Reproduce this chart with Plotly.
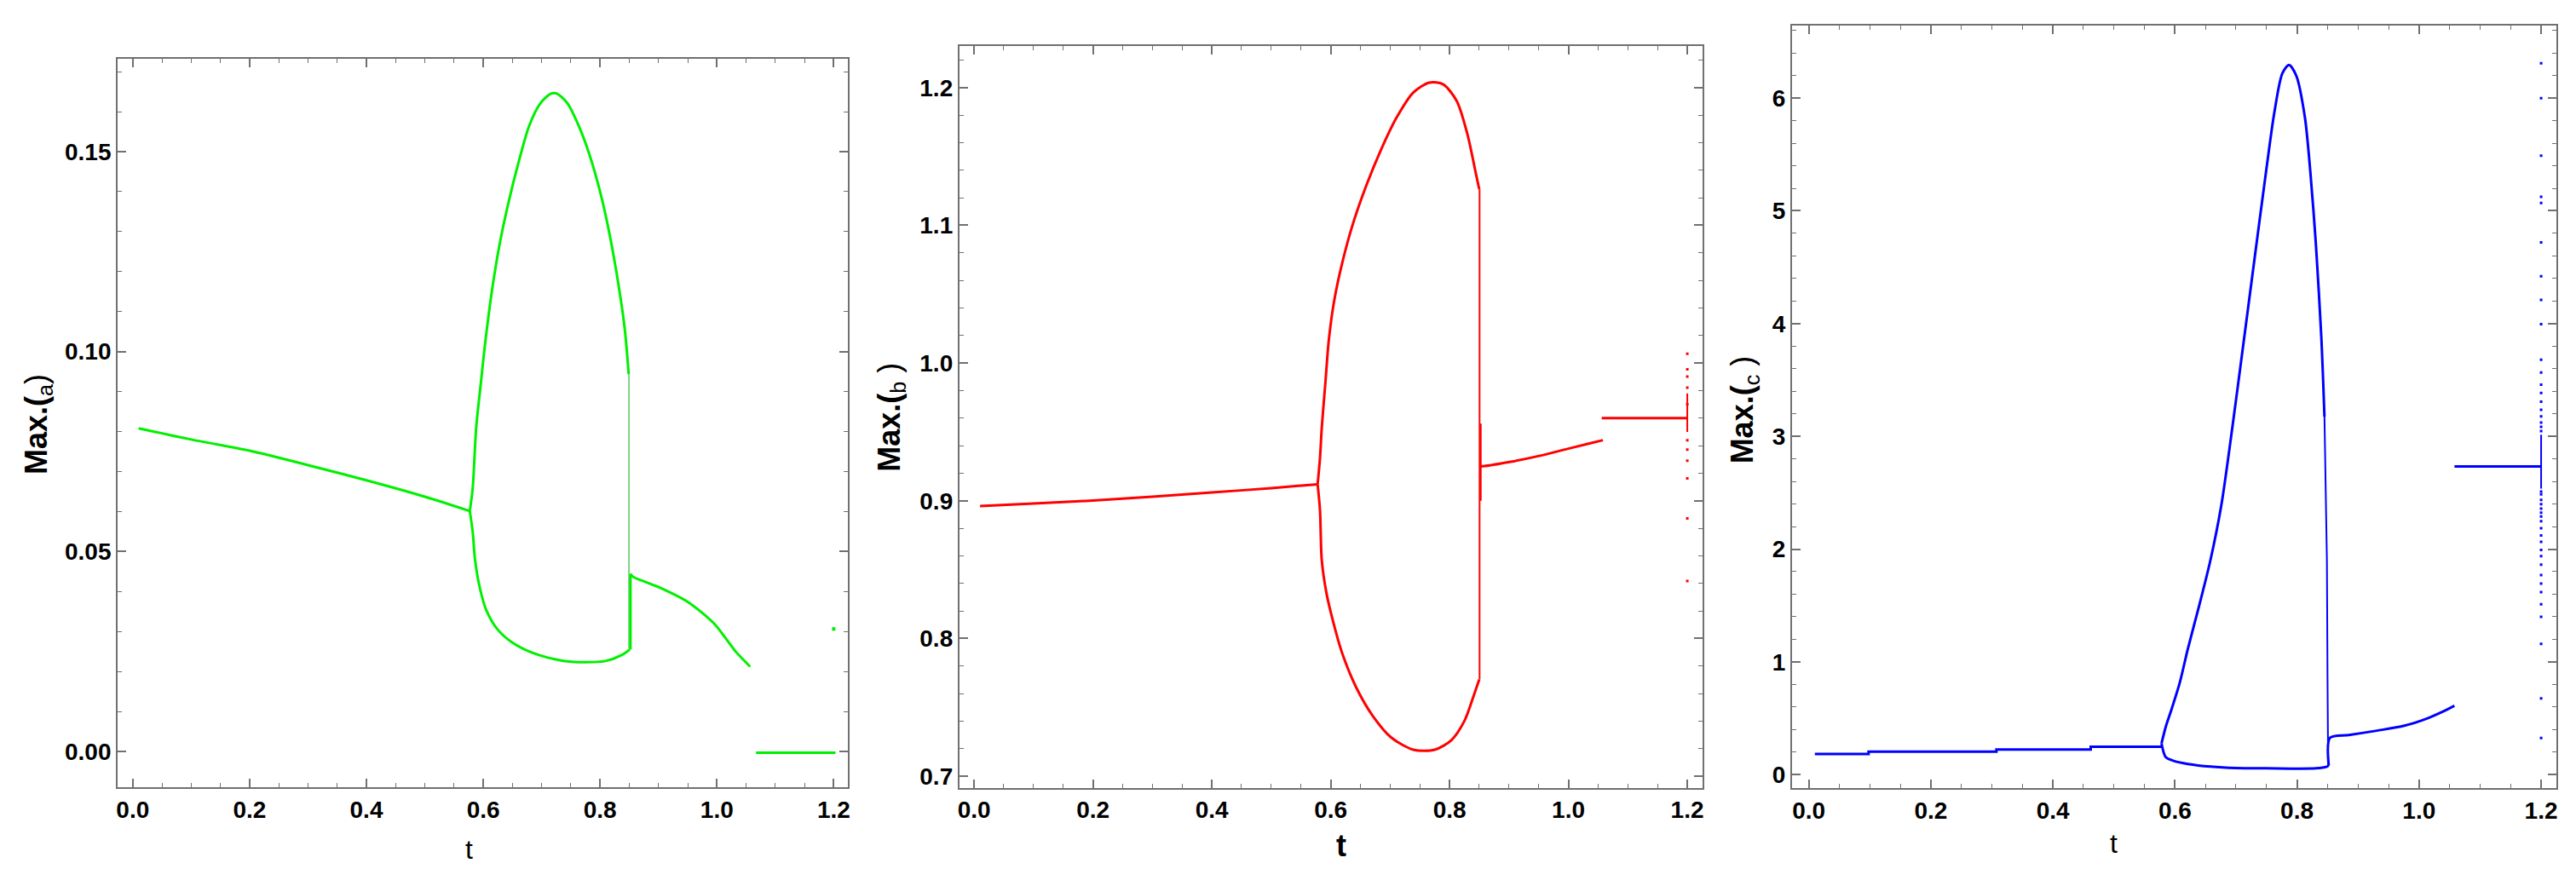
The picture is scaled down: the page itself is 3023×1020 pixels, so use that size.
import plotly.graph_objects as go

# ---------------- Panel (a) : green ----------------
a_left_t = [0.010, 0.100, 0.200, 0.300, 0.400, 0.500, 0.577]
a_left_v = [0.0808, 0.0780, 0.0752, 0.0716, 0.0678, 0.0637, 0.0601]

a_upper_t = [0.577, 0.582, 0.588, 0.596, 0.602, 0.614, 0.628, 0.642, 0.661, 0.679, 0.698,
             0.716, 0.726, 0.744, 0.763, 0.781, 0.800, 0.814, 0.828, 0.842, 0.849]
a_upper_v = [0.0601, 0.0659, 0.0811, 0.0922, 0.1005, 0.1143, 0.1268, 0.1365, 0.1476, 0.1566, 0.1621,
             0.1645, 0.1645, 0.1621, 0.1566, 0.1496, 0.1400, 0.1310, 0.1199, 0.1060, 0.0943]

a_drop_t = [0.8495, 0.8495]
a_drop_v = [0.0943, 0.0258]

a_lower_t = [0.577, 0.582, 0.586, 0.594, 0.605, 0.624, 0.651, 0.689, 0.735, 0.772, 0.809, 0.837, 0.851]
a_lower_v = [0.0601, 0.0548, 0.0479, 0.0410, 0.0354, 0.0306, 0.0271, 0.0244, 0.0227, 0.0223, 0.0226, 0.0241, 0.0255]

a_rise_t = [0.852, 0.852]
a_rise_v = [0.0255, 0.0444]

a_right_t = [0.852, 0.856, 0.902, 0.949, 0.995, 1.032, 1.057]
a_right_v = [0.0444, 0.0437, 0.0410, 0.0375, 0.0320, 0.0250, 0.0212]

a_zero_t = [1.067, 1.203]
a_zero_v = [-0.0003, -0.0003]

a_dots_t = [1.200]
a_dots_v = [0.0306]

# ---------------- Panel (b) : red ----------------
b_left_t = [0.010, 0.100, 0.200, 0.300, 0.400, 0.500, 0.578]
b_left_v = [0.8961, 0.8980, 0.9002, 0.9030, 0.9060, 0.9092, 0.9120]

b_upper_t = [0.578, 0.582, 0.585, 0.591, 0.597, 0.606, 0.620, 0.638, 0.661, 0.684, 0.711,
             0.739, 0.766, 0.789, 0.812, 0.830, 0.844, 0.850]
b_upper_v = [0.9120, 0.9311, 0.9532, 0.9854, 1.0175, 1.0456, 1.0738, 1.1019, 1.1301, 1.1542, 1.1783,
             1.1964, 1.2036, 1.2024, 1.1903, 1.1662, 1.1381, 1.1261]

b_drop_t = [0.8505, 0.8505]
b_drop_v = [1.1261, 0.7703]

b_lower_t = [0.578, 0.582, 0.585, 0.593, 0.604, 0.620, 0.643, 0.670, 0.702, 0.739, 0.775,
             0.803, 0.825, 0.842, 0.850]
b_lower_v = [0.9120, 0.8930, 0.8568, 0.8327, 0.8125, 0.7885, 0.7644, 0.7443, 0.7281, 0.7193, 0.7193,
             0.7262, 0.7402, 0.7603, 0.7703]

b_mid_t = [0.8525, 0.8525]
b_mid_v = [0.9560, 0.9000]

b_right_t = [0.853, 0.856, 0.903, 0.949, 0.994, 1.031, 1.058]
b_right_v = [0.9251, 0.9251, 0.9283, 0.9324, 0.9372, 0.9412, 0.9440]

b_plateau_t = [1.056, 1.200]
b_plateau_v = [0.9600, 0.9600]

b_dense_t = [1.2, 1.2]
b_dense_v = [0.9500, 0.9780]

b_dots_t = [1.2] * 11
b_dots_v = [1.0067, 0.9954, 0.9902, 0.9821, 0.9440, 0.9372, 0.9291, 0.9162, 0.8872, 0.8418, 0.9700]

# ---------------- Panel (c) : blue ----------------
c_left_t = [0.010, 0.098, 0.3075, 0.462, 0.578]
c_left_v = [0.183, 0.203, 0.223, 0.247, 0.247]

c_upper_t = [0.578, 0.585, 0.594, 0.608, 0.621, 0.640, 0.658, 0.676, 0.694, 0.712, 0.731,
             0.749, 0.763, 0.776, 0.787, 0.799, 0.813, 0.822, 0.831, 0.840, 0.845]
c_upper_v = [0.277, 0.425, 0.572, 0.817, 1.112, 1.505, 1.898, 2.389, 3.077, 3.814, 4.599,
             5.336, 5.876, 6.220, 6.294, 6.196, 5.827, 5.336, 4.698, 3.863, 3.175]

c_drop_t = [0.845, 0.849, 0.850, 0.851]
c_drop_v = [3.175, 1.898, 0.866, 0.081]

c_lower_t = [0.578, 0.585, 0.599, 0.621, 0.658, 0.700, 0.749, 0.831, 0.849, 0.852]
c_lower_v = [0.277, 0.154, 0.120, 0.095, 0.071, 0.058, 0.056, 0.056, 0.071, 0.080]

c_right_t = [0.852, 0.854, 0.885, 0.931, 0.976, 1.013, 1.040, 1.058]
c_right_v = [0.080, 0.326, 0.351, 0.390, 0.434, 0.498, 0.562, 0.611]

c_plateau_t = [1.058, 1.200]
c_plateau_v = [2.733, 2.733]

c_dense_t = [1.2, 1.2]
c_dense_v = [2.536, 3.014]

c_dots_v = [6.31, 6.00, 5.49, 5.125, 5.07, 4.72, 4.42, 4.21, 3.995, 3.680, 3.567, 3.459, 3.384,
            3.308, 3.235, 3.177, 3.122, 3.084, 3.047, 2.511, 2.486, 2.436, 2.398, 2.360, 2.323,
            2.290, 2.247, 2.185, 2.121, 2.064, 1.993, 1.938, 1.863, 1.770, 1.695, 1.619, 1.511,
            1.400, 1.159, 0.676, 0.324]
c_dots_t = [1.2] * len(c_dots_v)

GREEN = "#00F000"
RED = "#FF0000"
BLUE = "#0000FF"

fig = go.Figure()


def add_line(t, v, color, axis, width=3, shape="linear"):
    line = dict(color=color, width=width, shape=shape)
    if shape == "spline":
        line["smoothing"] = 0.8
    fig.add_trace(go.Scatter(x=t, y=v, mode="lines", line=line,
                             xaxis="x" + axis, yaxis="y" + axis, showlegend=False, hoverinfo="skip"))


def add_dots(t, v, color, axis, size=4):
    fig.add_trace(go.Scatter(x=t, y=v, mode="markers",
                             marker=dict(color=color, size=size, symbol="square", line=dict(width=0)),
                             xaxis="x" + axis, yaxis="y" + axis, showlegend=False, hoverinfo="skip"))


# panel a
add_line(a_left_t, a_left_v, GREEN, "", shape="spline")
add_line(a_upper_t, a_upper_v, GREEN, "", shape="spline")
add_line(a_drop_t, a_drop_v, "#7FD07F", "", width=2)
add_line(a_lower_t, a_lower_v, GREEN, "", shape="spline")
add_line(a_rise_t, a_rise_v, GREEN, "")
add_line(a_right_t, a_right_v, GREEN, "", shape="spline")
add_line(a_zero_t, a_zero_v, GREEN, "")
add_dots(a_dots_t, a_dots_v, GREEN, "")

# panel b
add_line(b_left_t, b_left_v, RED, "2", shape="spline")
add_line(b_upper_t, b_upper_v, RED, "2", shape="spline")
add_line(b_drop_t, b_drop_v, RED, "2", width=2)
add_line(b_lower_t, b_lower_v, RED, "2", shape="spline")
add_line(b_mid_t, b_mid_v, RED, "2", width=2)
add_line(b_right_t, b_right_v, RED, "2", shape="spline")
add_line(b_plateau_t, b_plateau_v, RED, "2")
add_line(b_dense_t, b_dense_v, RED, "2", width=2)
add_dots(b_dots_t, b_dots_v, RED, "2", size=3)

# panel c
add_line(c_left_t, c_left_v, BLUE, "3", shape="hv")
add_line(c_upper_t, c_upper_v, BLUE, "3", shape="spline")
add_line(c_drop_t, c_drop_v, BLUE, "3", width=2)
add_line(c_lower_t, c_lower_v, BLUE, "3", shape="spline")
add_line(c_right_t, c_right_v, BLUE, "3", shape="spline")
add_line(c_plateau_t, c_plateau_v, BLUE, "3")
add_line(c_dense_t, c_dense_v, BLUE, "3", width=2)
add_dots(c_dots_t, c_dots_v, BLUE, "3", size=3)

W, H = 3023, 1020
FRAME = "#707070"
FONT = "Liberation Sans, Arial, sans-serif"
tickfont = dict(family=FONT, size=28, color="black", weight="bold")


def axis(domain, rng, dtick, minor_dtick, fmt, tick0=0):
    return dict(domain=domain, range=rng, dtick=dtick, tick0=tick0, tickformat=fmt,
                ticks="inside", ticklen=10, tickwidth=1.5, tickcolor=FRAME,
                minor=dict(dtick=minor_dtick, tick0=tick0, ticks="inside", ticklen=5,
                           tickwidth=1.2, tickcolor=FRAME, showgrid=False),
                showline=True, linecolor=FRAME, linewidth=2, mirror="ticks",
                showgrid=False, zeroline=False, tickfont=tickfont, fixedrange=True)


def dx(a, b):
    return [a / W, b / W]


def dy(top, bottom):
    return [1 - bottom / H, 1 - top / H]


fig.update_layout(
    width=W, height=H,
    margin=dict(l=0, r=0, t=0, b=0),
    paper_bgcolor="white", plot_bgcolor="white",
    xaxis=dict(axis(dx(128.3, 986.7), [-0.0258, 1.2248], 0.2, 0.05, ".1f"), anchor="y"),
    yaxis=dict(axis(dy(60.7, 918.3), [-0.00906, 0.1733], 0.05, 0.01, ".2f"), anchor="x"),
    xaxis2=dict(axis(dx(1117.3, 1990.3), [-0.0248, 1.2252], 0.2, 0.05, ".1f"), anchor="y2"),
    yaxis2=dict(axis(dy(45.7, 918.7), [0.6915, 1.2304], 0.1, 0.02, ".1f"), anchor="x2"),
    xaxis3=dict(axis(dx(2095.7, 2994.3), [-0.0275, 1.2255], 0.2, 0.05, ".1f"), anchor="y3"),
    yaxis3=dict(axis(dy(21.7, 919.3), [-0.123, 6.646], 1, 0.2, "d"), anchor="x3"),
)

ytitle_font = dict(family=FONT, size=36, color="black")
xt_font_reg = dict(family=FONT, size=32, color="black")
xt_font_bold = dict(family=FONT, size=36, color="black", weight="bold")

annos = [
    dict(text="<b>Max.(</b><sub>a</sub>)", x=35 / W, y=1 - 491 / H, font=ytitle_font, textangle=-90),
    dict(text="<b>Max.(</b><sub>b</sub> )", x=1037 / W, y=1 - 483 / H, font=ytitle_font, textangle=-90),
    dict(text="<b>Max.(</b><sub>c</sub> )", x=2040 / W, y=1 - 474 / H, font=ytitle_font, textangle=-90),
    dict(text="t", x=541 / W, y=1 - 991 / H, font=xt_font_reg),
    dict(text="t", x=1566 / W, y=1 - 986 / H, font=xt_font_bold),
    dict(text="t", x=2474 / W, y=1 - 984 / H, font=xt_font_reg),
]
for a in annos:
    a.update(xref="paper", yref="paper", showarrow=False, xanchor="center", yanchor="middle")
fig.update_layout(annotations=annos)

fig.write_html("out.html")
